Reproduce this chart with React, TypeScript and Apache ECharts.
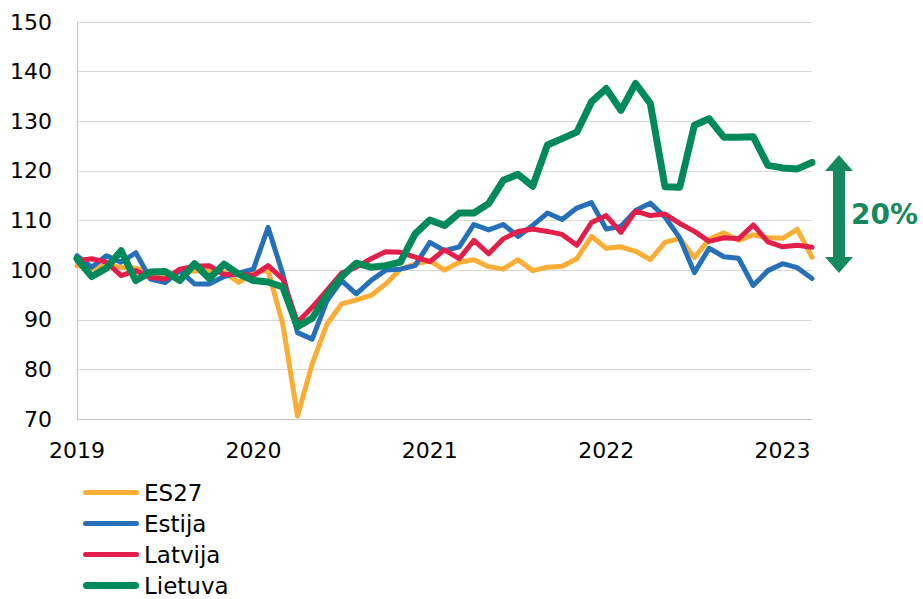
import React, { useEffect, useRef } from "react";
import * as echarts from "echarts";

// Monthly index values, Jan 2019 .. Mar 2023
const START_YEAR = 2019;
const MONTH_COUNT = 51;
const yearLabels = ["2019", "2020", "2021", "2022", "2023"];

const es27 = [
  100.9, 100.3, 101.0, 100.6, 100.4, 99.5, 98.6, 99.6, 99.8, 99.9, 99.6, 97.5,
  99.6, 99.9, 89.1, 70.6, 81.1, 89.1, 93.2, 94.0, 94.9, 97.2, 100.2, 101.2,
  101.9, 100.0, 101.6, 102.1, 100.7, 100.2, 102.1, 99.9, 100.6, 100.8, 102.3, 106.8,
  104.4, 104.7, 103.8, 102.1, 105.6, 106.4, 102.5, 106.2, 107.5, 106.0, 107.1, 106.5,
  106.4, 108.2, 102.6,
];
const estija = [
  102.9, 100.6, 102.9, 101.6, 103.5, 98.2, 97.5, 99.9, 97.2, 97.2, 98.7, 99.4,
  100.2, 108.6, 99.2, 87.4, 86.1, 93.8, 97.9, 95.2, 97.9, 100.0, 100.2, 100.9,
  105.6, 103.9, 104.7, 109.2, 108.1, 109.2, 106.8, 109.0, 111.5, 110.2, 112.5, 113.6,
  108.3, 108.8, 112.0, 113.5, 110.7, 106.5, 99.5, 104.4, 102.7, 102.4, 96.9, 99.9,
  101.3, 100.5, 98.3,
];
const latvija = [
  101.9, 102.3, 101.6, 98.9, 99.9, 98.5, 98.2, 100.2, 100.8, 100.9, 99.1, 99.2,
  98.9, 100.9, 98.2, 89.5, 92.5, 95.9, 99.4, 100.6, 102.3, 103.7, 103.6, 102.6,
  101.7, 104.1, 102.3, 106.0, 103.3, 106.3, 107.8, 108.3, 107.8, 107.2, 105.0, 109.6,
  111.0, 107.6, 111.9, 111.0, 111.3, 109.4, 107.8, 105.8, 106.5, 106.3, 109.1, 105.7,
  104.7, 105.0, 104.6,
];
const lietuva = [
  102.3, 98.7, 100.4, 103.9, 97.9, 99.6, 99.7, 97.9, 101.3, 98.3, 101.2, 99.2,
  97.9, 97.6, 96.6, 88.6, 90.3, 95.0, 98.7, 101.4, 100.6, 100.9, 101.6, 107.3,
  110.1, 109.0, 111.5, 111.5, 113.4, 118.1, 119.3, 116.9, 125.2, 126.5, 127.8, 133.9,
  136.6, 132.2, 137.6, 133.6, 116.8, 116.7, 129.2, 130.5, 126.8, 126.8, 126.9, 121.1,
  120.6, 120.4, 121.7,
];

const seriesNames = ["ES27", "Estija", "Latvija", "Lietuva"];
const seriesColors = ["#FBAD36", "#2570B8", "#E41E4A", "#008A5A"];
const annotationText = "20%";

const categories: string[] = [];
for (let i = 0; i < MONTH_COUNT; i++) {
  const y = START_YEAR + Math.floor(i / 12);
  const m = (i % 12) + 1;
  categories.push(`${y}-${m < 10 ? "0" + m : m}`);
}

const FONT = "'DejaVu Sans', Verdana, sans-serif";

function barIcon(h: number): string {
  const r = h / 2;
  return `path://M${r},0 H${56 - r} A${r},${r} 0 0 1 ${56 - r},${h} H${r} A${r},${r} 0 0 1 ${r},0 Z`;
}

export default function App() {
  const ref = useRef<HTMLDivElement>(null);
  useEffect(() => {
    if (!ref.current) return;
    const chart = echarts.init(ref.current, null, { renderer: "svg" });
    const values = [es27, estija, latvija, lietuva];
    const widths = [5, 5, 5, 7];
    chart.setOption({
      animation: false,
      backgroundColor: "#ffffff",
      grid: {
        left: 77,
        top: 22,
        width: 735,
        height: 397,
        containLabel: false,
        outerBoundsMode: "none",
      },
      legend: {
        orient: "vertical",
        left: 78,
        top: 476,
        height: 160,
        itemWidth: 56,
        itemHeight: 20,
        itemGap: 8,
        symbolKeepAspect: true,
        data: seriesNames.map((name, i) => ({
          name,
          icon: barIcon(widths[i]),
          itemStyle: { color: seriesColors[i] },
        })),
        textStyle: {
          fontFamily: FONT,
          fontSize: 23,
          lineHeight: 20,
          color: "#000000",
        },
      },
      xAxis: {
        type: "category",
        data: categories,
        boundaryGap: false,
        axisLine: { show: true, lineStyle: { color: "#c8c8c8", width: 1 } },
        axisTick: { show: false },
        splitLine: { show: false },
        axisLabel: {
          interval: (index: number) => index % 12 === 0,
          formatter: (v: string) => {
            const idx = categories.indexOf(v);
            return yearLabels[Math.floor(idx / 12)] ?? "";
          },
          margin: 20,
          fontFamily: FONT,
          fontSize: 22,
          color: "#000000",
        },
      },
      yAxis: {
        type: "value",
        min: 70,
        max: 150,
        interval: 10,
        axisLine: { show: true, lineStyle: { color: "#c8c8c8", width: 1 } },
        axisTick: { show: false },
        splitLine: { show: true, lineStyle: { color: "#d9d9d9", width: 1 } },
        axisLabel: {
          margin: 25,
          fontFamily: FONT,
          fontSize: 22,
          color: "#000000",
        },
      },
      series: seriesNames.map((name, i) => ({
        name,
        type: "line",
        data: values[i],
        symbol: "none",
        smooth: false,
        color: seriesColors[i],
        lineStyle: {
          color: seriesColors[i],
          width: widths[i],
          join: "round",
          cap: "round",
        },
        z: 2 + i,
      })),
      graphic: [
        {
          type: "polygon",
          shape: {
            points: [
              [839, 155],
              [853, 171],
              [845, 171],
              [845, 257],
              [853, 257],
              [839, 273],
              [825, 257],
              [833, 257],
              [833, 171],
              [825, 171],
            ],
          },
          style: { fill: "#168A5E" },
          z: 10,
        },
        {
          type: "text",
          left: 851,
          top: 200,
          style: {
            text: annotationText,
            fontFamily: FONT,
            fontSize: 28,
            fontWeight: "bold",
            fill: "#168A5E",
          },
          z: 10,
        },
      ],
    });
    return () => chart.dispose();
  }, []);
  return (
    <div
      ref={ref}
      style={{ position: "fixed", left: 0, top: 0, width: 923, height: 599 }}
    />
  );
}
